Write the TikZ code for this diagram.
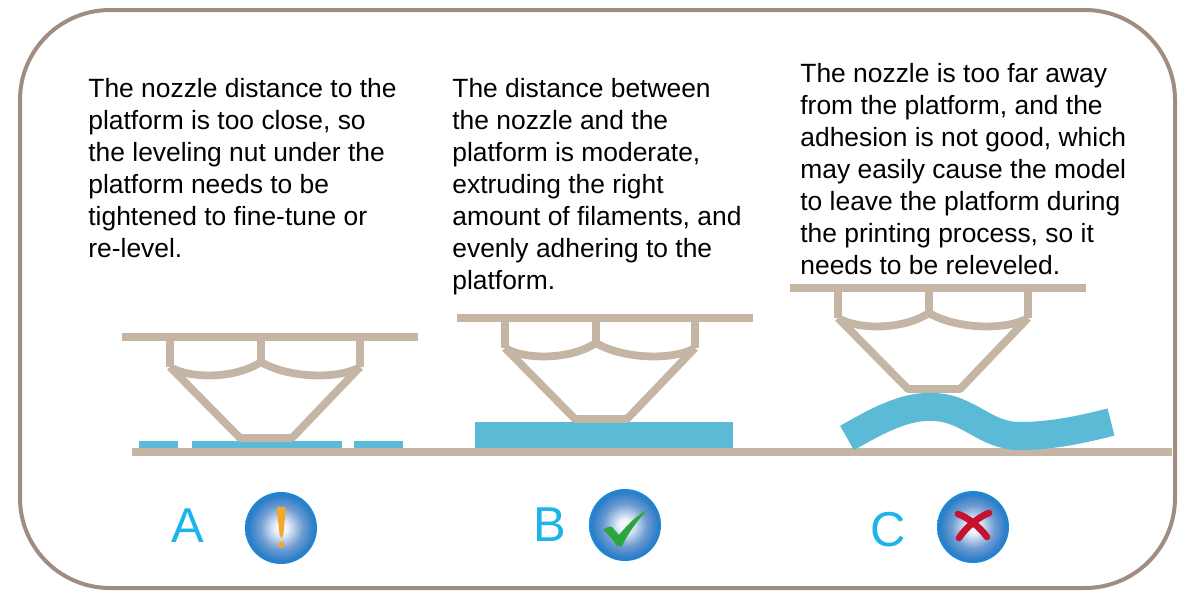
\documentclass[tikz,border=0pt]{standalone}
\usepackage{fontspec}
\setmainfont{Liberation Sans}
\definecolor{framec}{HTML}{A08C80}
\definecolor{plat}{HTML}{C4B5A5}
\definecolor{fil}{HTML}{5BBAD5}
\definecolor{letterc}{HTML}{1DB4EA}
\definecolor{ballc}{HTML}{F2F5FB}
\definecolor{ballm}{HTML}{6E9BD2}
\definecolor{ballb}{HTML}{2A7DC8}
\definecolor{ballr}{HTML}{1C8AD6}
\definecolor{warnc}{HTML}{F2A92A}
\definecolor{okc}{HTML}{2BA63C}
\definecolor{badc}{HTML}{C5122F}
\pgfdeclareradialshading{iconball}{\pgfpoint{0bp}{0bp}}{%
  color(0bp)=(ballc); color(4bp)=(ballc); color(15bp)=(ballm);
  color(23bp)=(ballb); color(25bp)=(ballr); color(50bp)=(ballr)}
\tikzset{
  frameline/.style={draw=framec, line width=2pt, rounded corners=45pt},
  bed/.style={draw=plat, line width=4.3pt},
  nozzleline/.style={draw=plat, line width=3.9pt, line join=round},
  filament/.style={fill=fil},
  caption/.style={anchor=north west, inner sep=0pt, align=left,
    font=\fontsize{13.2}{16}\selectfont},
  tag/.style={text=letterc, inner sep=0pt, font=\fontsize{24.5}{28}\selectfont},
  iconball/.style={circle, minimum size=36pt, inner sep=0pt, shading=iconball},
  nozzle/.pic={
    \draw[bed] (-143,0) -- (153,0);
    \draw[nozzleline] (-95,0) -- (-95,30) (95,0) -- (95,30) (-4,0) -- (-4,25);
    \draw[nozzleline] (-95,30) .. controls (-75,42) and (-30,42) .. (-4,25)
                               .. controls (25,42) and (75,42) .. (95,30);
    \draw[nozzleline] (-95,30) -- (-25,101) -- (27,101) -- (95,30);
  }
}
\begin{document}
\begin{tikzpicture}[x=0.5pt, y=-0.5pt]
\useasboundingbox (0,0) rectangle (1190,590);

% outer frame
\draw[frameline] (20,10) rectangle (1175,588);

% descriptions
\node[caption] (textA) at (88,78) {The nozzle distance to the\\platform is too close, so\\the leveling nut under the\\platform needs to be\\tightened to fine-tune or\\re-level.};
\node[caption] (textB) at (452,78) {The distance between\\the nozzle and the\\platform is moderate,\\extruding the right\\amount of filaments, and\\evenly adhering to the\\platform.};
\node[caption] (textC) at (800,63) {The nozzle is too far away\\from the platform, and the\\adhesion is not good, which\\may easily cause the model\\to leave the platform during\\the printing process, so it\\needs to be releveled.};

% printing bed
\coordinate (bedL) at (132,452);
\coordinate (bedR) at (1172,452);
\draw[bed] (bedL) -- (bedR);

% filament: case A (squeezed, broken)
\fill[filament] (139,441) rectangle (178,448);
\fill[filament] (192,441) rectangle (342,448);
\fill[filament] (354,441) rectangle (403,448);
% filament: case B (even layer)
\fill[filament] (475,422) rectangle (733,448);

% nozzles
\pic at (265,337) {nozzle};
\pic at (600,318) {nozzle};
\pic at (933,288) {nozzle};

% filament: case C (lifted, wavy)
\draw[fil, line width=14pt] (847,438) .. controls (877,421) and (905,405) .. (935,407)
  .. controls (970,409) and (985,436) .. (1020,436)
  .. controls (1050,436) and (1080,430) .. (1111,422);

% labels
\node[tag] (labA) at (188,526) {A};
\node[tag] (labB) at (550,525) {B};
\node[tag] (labC) at (888,530) {C};

% status icons
\node[iconball] (iconA) at (281,528) {};
\node[iconball] (iconB) at (625,525) {};
\node[iconball] (iconC) at (973,527) {};

% warning mark
\fill[warnc, rounded corners=1pt] (276.5,507) -- (286,507) -- (283,538) -- (280,538) -- cycle;
\fill[warnc] (281.5,544.5) circle (3.2);

% check mark
\fill[okc] (603,530) .. controls (607,527) and (610,526) .. (612,527)
  -- (619,535) .. controls (628,524) and (637,515) .. (647,510)
  .. controls (638,520) and (628,533) .. (622,546)
  -- (617,546) .. controls (613,540) and (608,534) .. (603,530) -- cycle;

% cross mark
\draw[badc, line width=3.3pt, line cap=round]
  (958,514) .. controls (967,517) and (980,527) .. (987,537)
  (989,513) .. controls (980,516) and (966,527) .. (959,538);
\end{tikzpicture}
\end{document}
